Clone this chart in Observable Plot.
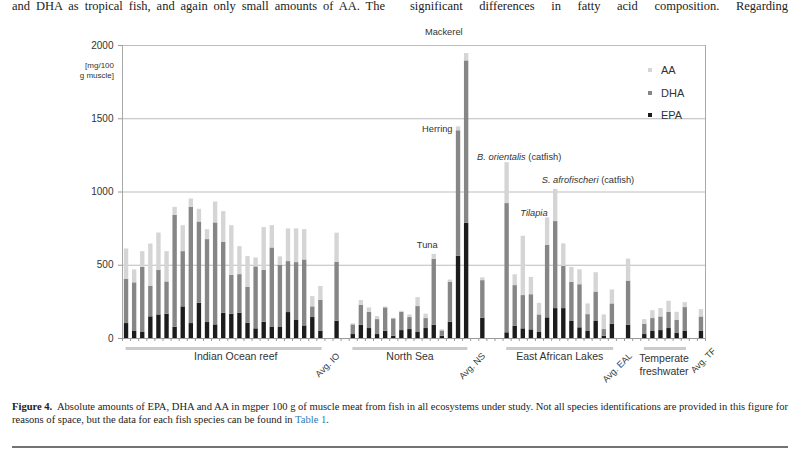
<!DOCTYPE html>
<html>
<head>
<meta charset="utf-8">
<script src="https://cdn.jsdelivr.net/npm/d3@7"></script>
<script src="https://cdn.jsdelivr.net/npm/@observablehq/plot@0.6"></script>
<style>
  html, body { margin: 0; padding: 0; background: #fff; }
  #page { position: relative; width: 800px; height: 450px; overflow: hidden; background: #fff; }
  #chart { position: absolute; left: 0; top: 0; }
  .ov { position: absolute; font-family: "Liberation Sans", Arial, sans-serif; color: #333; }
  #ylab { left: 60px; top: 61px; width: 54px; text-align: right; font-size: 8px; line-height: 9.5px; }
  #legend { left: 648px; top: 59px; font-size: 11px; }
  #legend .row { display: flex; align-items: center; height: 22.5px; }
  #legend .sw { width: 4px; height: 4px; margin-right: 9px; }
  #paper { position: absolute; left: 0; top: 0; }
</style>
</head>
<body>
<div id="page">
  <div id="chart"></div>
  <div id="ylab" class="ov">[mg/100<br>g muscle]</div>
  <div id="legend" class="ov"></div>
  <svg id="paper" width="800" height="450"></svg>
</div>
<script>
// ---------------- data (mg per 100 g muscle) ----------------
const groupNames = ["Indian Ocean reef", "North Sea", "East African Lakes", "Temperate\nfreshwater"];
const avgLabels  = ["Avg. IO", "Avg. NS", "Avg. EAL", "Avg. TF"];
const acids = ["EPA", "DHA", "AA"];

// Indian Ocean reef (25 species)
const ioEPA = [102, 48, 41, 148, 161, 166, 77, 216, 102, 241, 109, 93, 173, 166, 173, 105, 66, 111, 75, 75, 177, 123, 86, 143, 48];
const ioDHA = [303, 332, 445, 207, 303, 220, 764, 377, 793, 554, 566, 696, 484, 264, 263, 245, 423, 353, 543, 425, 348, 395, 450, 73, 213];
const ioAA  = [206, 88, 107, 290, 256, 207, 54, 177, 57, 87, 68, 143, 209, 340, 191, 209, 61, 293, 152, 57, 223, 230, 207, 70, 94];
// North Sea (15 species)
const nsEPA = [27, 91, 68, 27, 50, 16, 54, 61, 41, 68, 91, 16, 111, 561, 786];
const nsDHA = [66, 136, 111, 102, 159, 118, 125, 82, 177, 68, 449, 36, 274, 857, 1109];
const nsAA  = [7, 32, 30, 21, 6, 4, 7, 18, 61, 30, 34, 7, 14, 27, 50];
// East African Lakes (14 species)
const ealEPA = [39, 84, 66, 59, 41, 141, 204, 204, 116, 73, 48, 116, 16, 98];
const ealDHA = [882, 277, 227, 240, 120, 496, 594, 288, 267, 294, 115, 201, 45, 138];
const ealAA  = [279, 74, 405, 118, 79, 186, 220, 154, 102, 102, 73, 132, 100, 95];
// Temperate freshwater (6 species)
const tfEPA = [27, 48, 54, 68, 34, 48];
const tfDHA = [71, 88, 93, 111, 91, 163];
const tfAA  = [31, 54, 57, 75, 54, 34];
// Ecosystem averages (IO, NS, EAL, TF)
const avgEPA = [118, 139, 91, 48];
const avgDHA = [401, 256, 301, 99];
const avgAA  = [200, 19, 150, 50];

const yTicks = [0, 500, 1000, 1500, 2000];
const gridValues = [500, 1000, 1500, 2000];

// labelled species: [group index, species index, label]
const annotations = [
  [1, 14, "Mackerel"],
  [1, 13, "Herring"],
  [1, 10, "Tuna"],
  [2, 0, "B. orientalis (catfish)"],
  [2, 6, "S. afrofischeri (catfish)"],
  [2, 5, "Tilapia"]
];

// ---------------- layout of slots ----------------
const series = [
  [ioEPA, ioDHA, ioAA], [nsEPA, nsDHA, nsAA], [ealEPA, ealDHA, ealAA], [tfEPA, tfDHA, tfAA]
];
const spacersAfterAvg = [1, 2, 1, 0];

const bars = [];
const spans = [];
const avgSlots = [];
const slotIndex = {};
let k = 0;
series.forEach(([e, d, a], g) => {
  const start = k;
  e.forEach((_, i) => {
    slotIndex[g + "-" + i] = k;
    const vals = [e[i], d[i], a[i]];
    let acc = 0;
    vals.forEach((v, j) => { bars.push({k, acid: acids[j], y1: acc, y2: acc + v}); acc += v; });
    k++;
  });
  spans.push({g, name: groupNames[g], x1: start, x2: k - 1});
  k++; // gap
  const vals = [avgEPA[g], avgDHA[g], avgAA[g]];
  let acc = 0;
  vals.forEach((v, j) => { bars.push({k, acid: acids[j], y1: acc, y2: acc + v}); acc += v; });
  avgSlots.push({k, g, label: avgLabels[g]});
  k++;
  k += spacersAfterAvg[g];
});
const nSlots = k;
const boundaries = d3.range(nSlots + 1).map(i => i - 0.5);

const annData = annotations.map(([g, i, label]) => {
  const kk = slotIndex[g + "-" + i];
  const s = series[g];
  return {k: kk, label, top: s[0][i] + s[1][i] + s[2][i]};
});

const colors = {EPA: "#1c1c1c", DHA: "#868686", AA: "#d5d5d5"};
const annStyle = {
  "Mackerel": {dx: -4, dy: -22, anchor: "end"},
  "Herring": {dx: -6, dy: 2, anchor: "end"},
  "Tuna": {dx: -7, dy: -9, anchor: "middle"},
  "B. orientalis (catfish)": {dx: -30, dy: -6, anchor: "start"},
  "S. afrofischeri (catfish)": {dx: -14, dy: -9, anchor: "start"},
  "Tilapia": {dx: 0, dy: -5, anchor: "end"}
};
const avgOff = [{dx: 1, dy: 16}, {dx: 1, dy: 16}, {dx: 2, dy: 16}, {dx: 13, dy: 11}];

const w = 0.27;
const marks = [
  Plot.ruleY(gridValues, {stroke: "#bdbdbd", strokeWidth: 1.2}),
  Plot.ruleX([boundaries[0], boundaries[boundaries.length - 1]], {y1: 0, y2: 2000, stroke: "#a8a8a8", strokeWidth: 1}),
  Plot.rectY(bars, {x1: d => d.k - w, x2: d => d.k + w, y1: "y1", y2: "y2", fill: d => colors[d.acid]}),
  Plot.ruleY([0], {stroke: "#9a9a9a", strokeWidth: 1}),
  Plot.axisX({ticks: boundaries, tickSize: 3, tickFormat: () => "", stroke: "#9a9a9a", label: null}),
  Plot.axisY({ticks: yTicks, tickSize: 4, tickPadding: 5, tickFormat: d => String(d), stroke: "#9a9a9a", fill: "#333", fontSize: 10, label: null}),
  Plot.ruleY(spans, {x1: d => d.x1 - 0.05, x2: d => d.x2 + 0.15, y: 0, dy: 10, stroke: "#cbcbcb", strokeWidth: 3}),
  Plot.text(spans.filter(s => s.g === 0), {x: d => (d.x1 + d.x2) / 2, y: 0, text: "name", dx: 12, dy: 14, lineAnchor: "top", fontSize: 10.5, fill: "#333"}),
  Plot.text(spans.filter(s => s.g === 1 || s.g === 2), {x: d => (d.x1 + d.x2) / 2, y: 0, text: "name", dy: 14, lineAnchor: "top", fontSize: 10.5, fill: "#333"}),
  Plot.text(spans.filter(s => s.g === 3), {x: d => (d.x1 + d.x2) / 2, y: 0, text: "name", dx: -1, dy: 14, lineAnchor: "top", fontSize: 10.5, lineHeight: 1.25, fill: "#333"}),
  ...avgSlots.map(a => Plot.text([a], {x: "k", y: 0, text: "label", rotate: -45, textAnchor: "end", lineAnchor: "middle", dx: avgOff[a.g].dx, dy: avgOff[a.g].dy, fontSize: 9, fill: "#333"})),
  ...annData.map(a => Plot.text([a], {x: "k", y: "top", text: "label", dx: annStyle[a.label].dx, dy: annStyle[a.label].dy, textAnchor: annStyle[a.label].anchor, fontSize: 9.3, fill: "#333"}))
];

const chart = Plot.plot({
  width: 800, height: 450,
  marginLeft: 122, marginRight: 95, marginTop: 45, marginBottom: 112,
  x: {domain: [boundaries[0], boundaries[boundaries.length - 1]], axis: null},
  y: {domain: [0, 2000], axis: null},
  style: {fontFamily: "Liberation Sans, Arial, sans-serif", fontSize: "10px", color: "#333", background: "transparent", overflow: "visible"},
  marks
});
document.getElementById("chart").appendChild(chart);

// italic species names
d3.select(chart).selectAll("text").each(function() {
  const t = this.textContent;
  const m = t.match(/^(B\. orientalis|S\. afrofischeri)( \(catfish\))$/);
  const sel = d3.select(this);
  if (m) {
    sel.text(null);
    sel.append("tspan").attr("font-style", "italic").text(m[1]);
    sel.append("tspan").text(m[2]);
  } else if (t === "Tilapia") {
    sel.attr("font-style", "italic");
  }
});

// legend (top to bottom: AA, DHA, EPA)
const legend = d3.select("#legend");
acids.slice().reverse().forEach(a => {
  const row = legend.append("div").attr("class", "row");
  row.append("div").attr("class", "sw").style("background", colors[a]);
  row.append("span").text(a);
});

// surrounding page text
const paper = d3.select("#paper");
const serif = "Liberation Serif, Times New Roman, serif";
function justified(x, y, width, str, size) {
  const t = paper.append("text").attr("x", x).attr("y", y).attr("font-family", serif)
    .attr("font-size", size).attr("fill", "#222").text(str);
  const L = t.node().getComputedTextLength();
  const spaces = (str.match(/ /g) || []).length;
  if (L > width) {
    t.attr("textLength", width).attr("lengthAdjust", "spacingAndGlyphs");
  } else if (spaces) {
    t.attr("word-spacing", ((width - L) / spaces).toFixed(2));
  }
  return t;
}
justified(12, 9.5, 373, "and DHA as tropical fish, and again only small amounts of AA. The", 12.5);
justified(410, 9.5, 378, "significant differences in fatty acid composition. Regarding", 12.5);

const cap1 = paper.append("text").attr("x", 12).attr("y", 410).attr("font-family", serif).attr("font-size", 10.6).attr("fill", "#222")
  .attr("textLength", 776).attr("lengthAdjust", "spacingAndGlyphs");
cap1.append("tspan").attr("font-weight", "bold").text("Figure 4.");
cap1.append("tspan").text("\u00a0 Absolute amounts of EPA, DHA and AA in mgper 100 g of muscle meat from fish in all ecosystems under study. Not all species identifications are provided in this figure for");
const cap2 = paper.append("text").attr("x", 12).attr("y", 423).attr("font-family", serif).attr("font-size", 10.6).attr("fill", "#222")
  .attr("textLength", 317).attr("lengthAdjust", "spacingAndGlyphs");
cap2.append("tspan").text("reasons of space, but the data for each fish species can be found in ");
cap2.append("tspan").attr("fill", "#2b7bb9").text("Table 1");
cap2.append("tspan").text(".");

paper.append("line").attr("x1", 12).attr("x2", 788).attr("y1", 447).attr("y2", 447).attr("stroke", "#444").attr("stroke-width", 1.3);
</script>
</body>
</html>
